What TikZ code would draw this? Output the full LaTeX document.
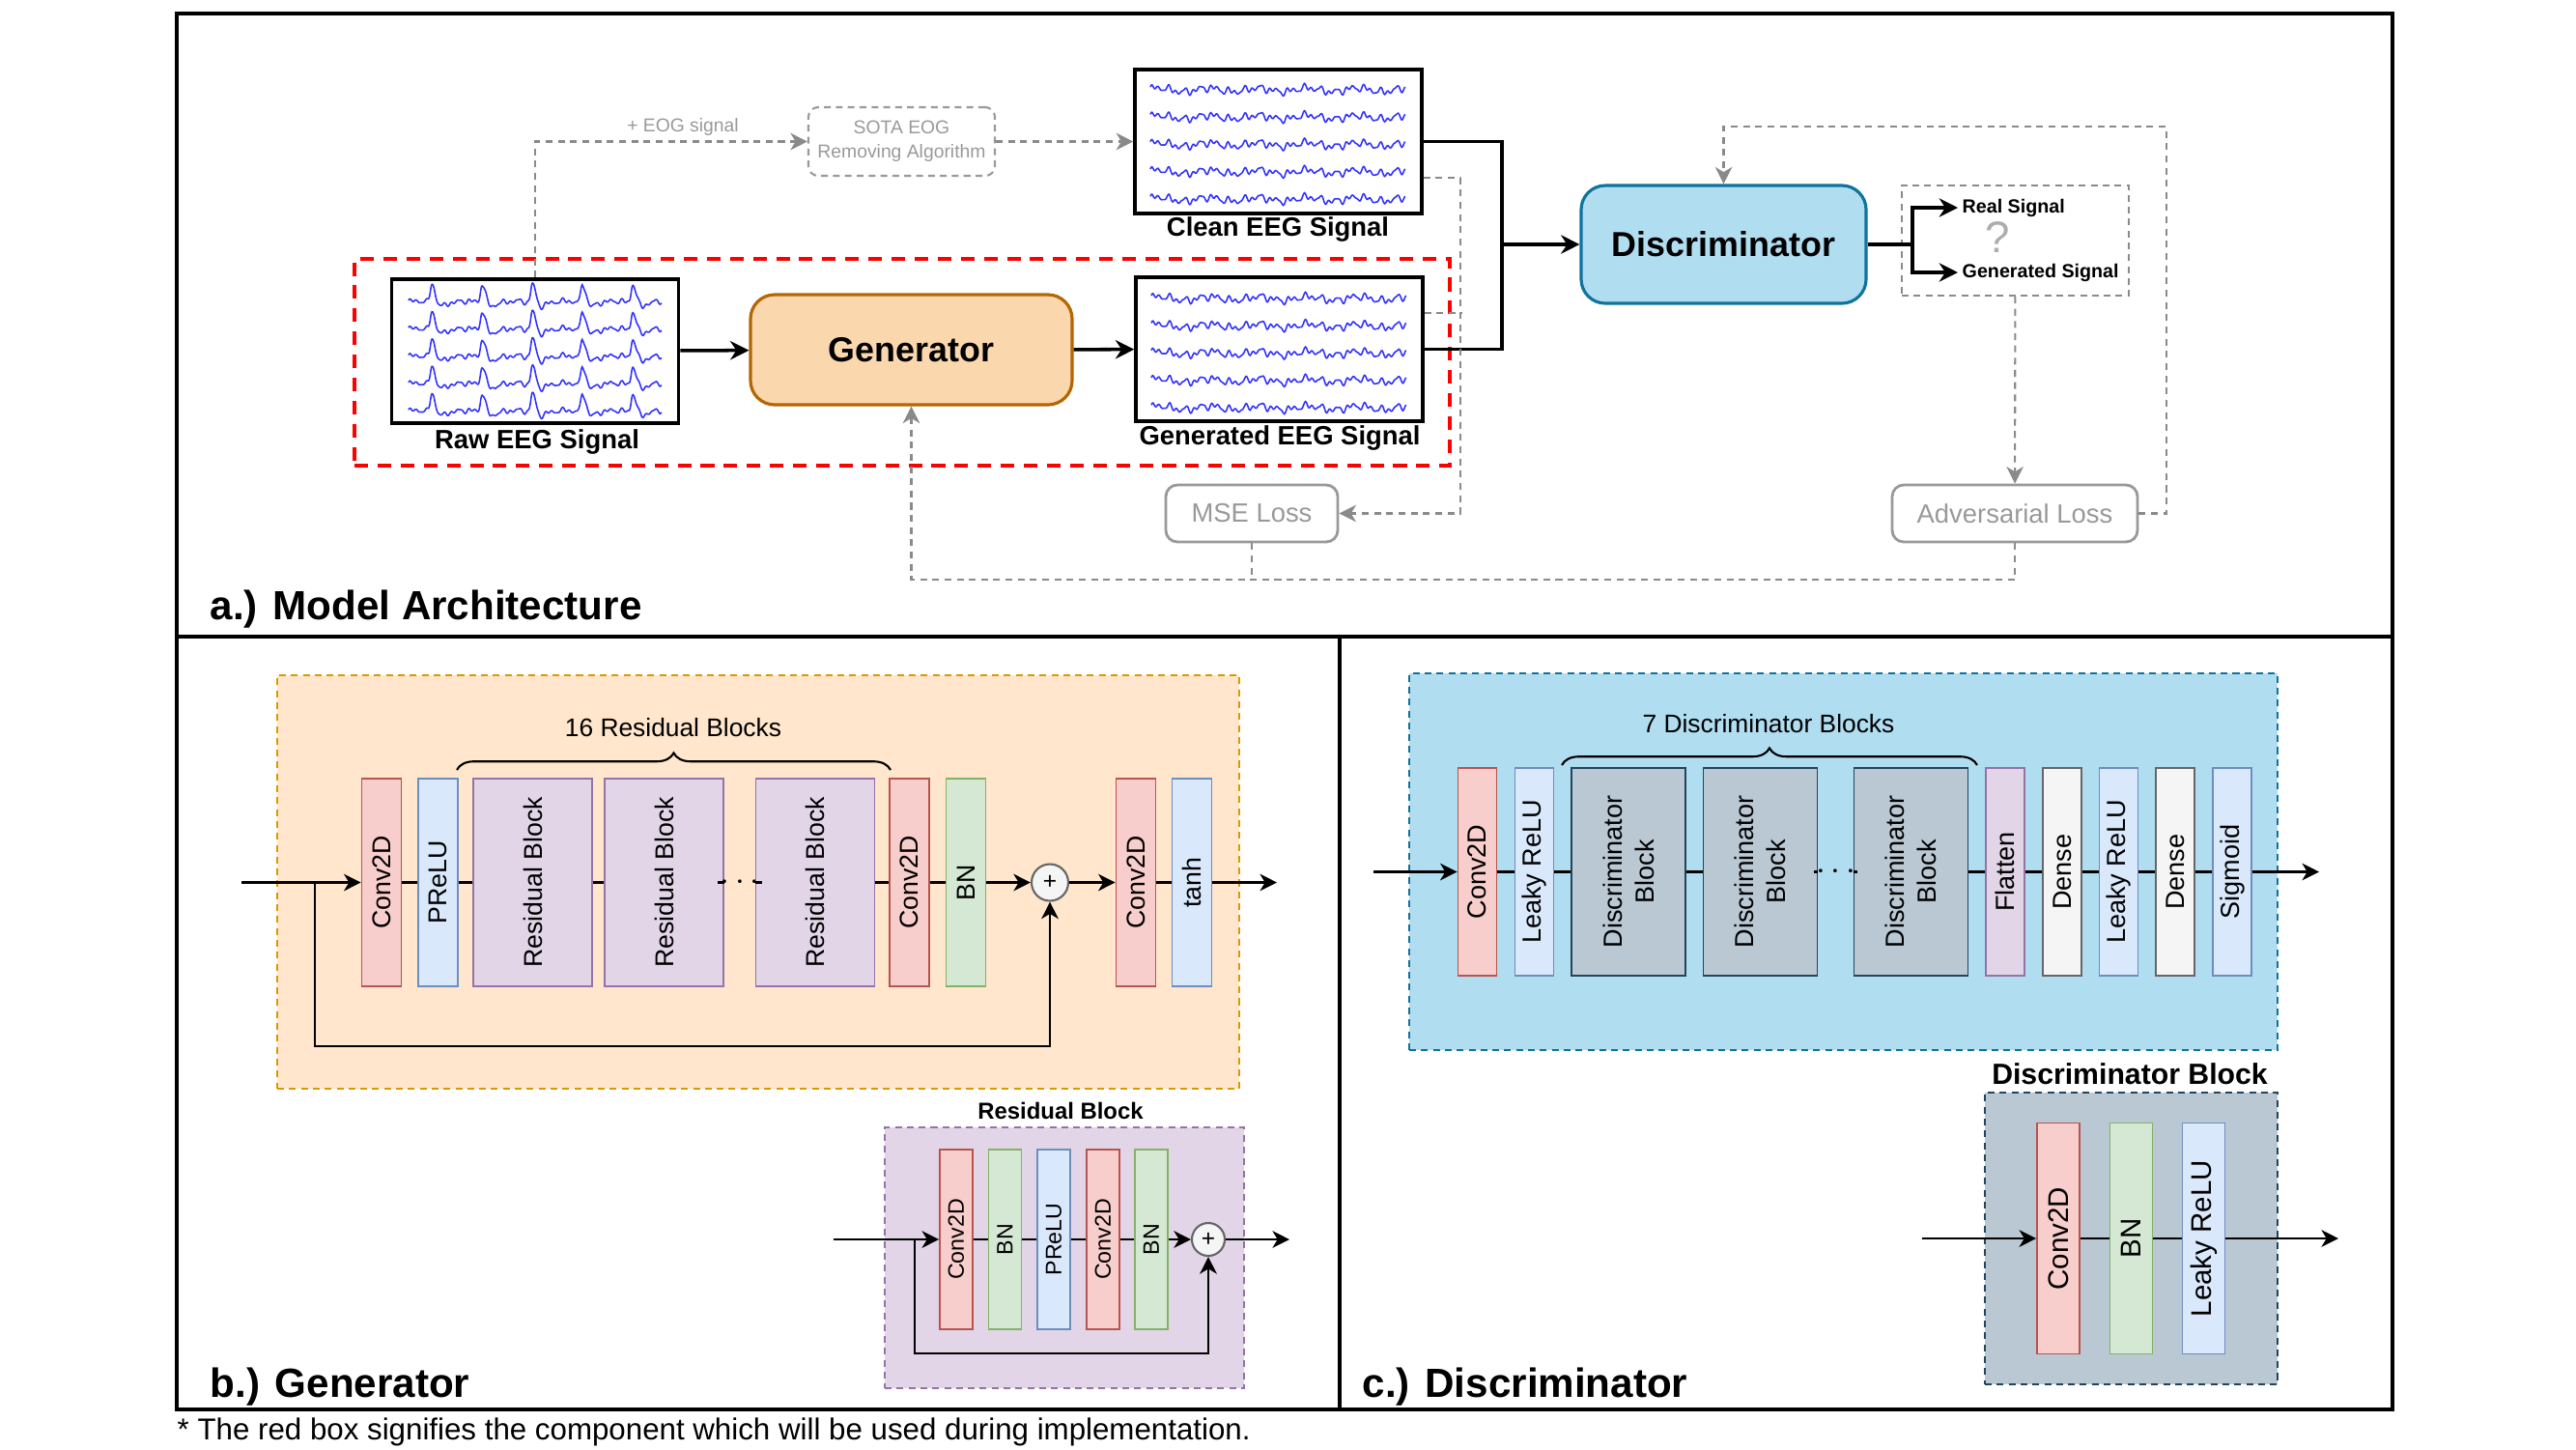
\documentclass[tikz,border=0pt]{standalone}
\usepackage{fontspec}
\setmainfont{Liberation Sans}
\usetikzlibrary{arrows.meta,decorations.pathreplacing}

\definecolor{convfill}{HTML}{F8CECC}\definecolor{convline}{HTML}{B85450}
\definecolor{actfill}{HTML}{DAE8FC}\definecolor{actline}{HTML}{6C8EBF}
\definecolor{bnfill}{HTML}{D5E8D4}\definecolor{bnline}{HTML}{82B366}
\definecolor{resfill}{HTML}{E1D5E7}\definecolor{resline}{HTML}{9673A6}
\definecolor{genfill}{HTML}{FAD7AC}\definecolor{genline}{HTML}{B46504}
\definecolor{orgfill}{HTML}{FFE6CC}\definecolor{orgline}{HTML}{D79B00}
\definecolor{discfill}{HTML}{B1DDF0}\definecolor{discline}{HTML}{10739E}
\definecolor{dblkfill}{HTML}{BAC8D3}\definecolor{dblkline}{HTML}{23445D}
\definecolor{densefill}{HTML}{F5F5F5}\definecolor{denseline}{HTML}{666666}
\definecolor{eegblue}{HTML}{3333FF}
\definecolor{lossgray}{HTML}{999999}
\definecolor{fbgray}{HTML}{8A8A8A}

\begin{document}
\begin{tikzpicture}[
	x=1cm, y=-1cm,
	declare function={
		eegn(\t)=0.022*sin(2300*\t)+0.017*sin(4100*\t+60)+0.013*sin(5900*\t+20)+0.02*sin(700*\t+30);
		spk(\u)=exp(-min(\u*\u,9));
		blink(\t)=spk(min(\t-0.1,0)/0.022+max(\t-0.1,0)/0.045)-0.15*spk((\t-0.2)/0.04);
	},
	eegbox/.style={draw, line width=1pt, minimum width=2.97cm, minimum height=1.49cm, inner sep=0},
	eegwave/.style={eegblue, line width=0.45pt},
	sigtext/.style={font=\fontsize{7.8}{9}\selectfont\bfseries},
	mainblock/.style={
		rectangle,
		rounded corners=2.5mm,
		line width=0.9pt,
		font=\fontsize{10.2}{12}\selectfont\bfseries
	},
	lossbox/.style={draw=lossgray, rounded corners=1.2mm, line width=0.8pt, text=lossgray,
		minimum height=0.59cm, font=\fontsize{7.8}{9}\selectfont},
	greytext/.style={text=lossgray, font=\fontsize{5.5}{7}\selectfont, align=center},
	flow/.style={line width=1pt, -{Stealth[length=5.5pt,width=5.5pt,inset=1.8pt]}},
	flowline/.style={line width=1pt},
	fb/.style={draw=fbgray, line width=0.6pt, dash pattern=on 2pt off 1.6pt},
	fbarrow/.style={fb, -{Stealth[length=5pt,width=5pt,inset=1.5pt]}},
	panel/.style={dash pattern=on 2pt off 1.5pt, line width=0.6pt, inner sep=0},
	nnlayer/.style={draw, line width=0.5pt, rotate=90, inner sep=0, align=center},
	conv2d/.style={nnlayer, fill=convfill, draw=convline},
	actfn/.style={nnlayer, fill=actfill, draw=actline},
	bnorm/.style={nnlayer, fill=bnfill, draw=bnline},
	resblock/.style={nnlayer, fill=resfill, draw=resline},
	discblock/.style={nnlayer, fill=dblkfill, draw=dblkline},
	flatten/.style={nnlayer, fill=resfill, draw=resline},
	denselyr/.style={nnlayer, fill=densefill, draw=denseline},
	gthin/.style={minimum width=2.15cm, minimum height=0.41cm, font=\fontsize{7.6}{9}\selectfont},
	gwide/.style={gthin, minimum height=1.23cm},
	rthin/.style={minimum width=1.86cm, minimum height=0.34cm, font=\fontsize{6.6}{8}\selectfont},
	dthin/.style={minimum width=2.15cm, minimum height=0.40cm, font=\fontsize{7.7}{9.4}\selectfont},
	dwide/.style={dthin, minimum height=1.18cm},
	bthin/.style={minimum width=2.39cm, minimum height=0.44cm, font=\fontsize{8.4}{10}\selectfont},
	addnode/.style={circle, draw=gray!80!black, fill=densefill, line width=0.6pt, inner sep=0,
		minimum size=#1, font=\fontsize{7}{8}\selectfont},
	link/.style={line width=0.65pt},
	linkarrow/.style={link, -{Stealth[length=5pt,width=5pt,inset=1.5pt]}},
	bracedraw/.style={decorate, decoration={brace, amplitude=5pt}, line width=0.6pt},
	bracetext/.style={font=\fontsize{7.5}{9}\selectfont},
	title/.style={anchor=west, inner sep=0, font=\fontsize{12}{14}\selectfont\bfseries},
	subtitle/.style={font=\fontsize{6.8}{8}\selectfont\bfseries},
]
	\useasboundingbox (0,0) rectangle (26.67,15);

	% frame
	\draw[line width=1pt] (1.83,0.14) rectangle (24.77,14.59);
	\draw[line width=1pt] (1.83,6.59) -- (24.77,6.59);
	\draw[line width=1pt] (13.87,6.59) -- (13.87,14.59);

	% a.) model architecture
	\node [eegbox] (rawbox) at (5.54,3.635) {};
	\node [eegbox] (cleanbox) at (13.235,1.465) {};
	\node [eegbox] (genbox) at (13.245,3.615) {};
	\foreach \r in {0,...,4} {
		\draw[eegwave] plot[domain=0:2.62, samples=400]
			({4.23+\x},{3.13+0.283*\r-0.7*eegn(\x)-0.2*blink(Mod(\x-0.14,0.52))});
		\draw[eegwave] plot[domain=0:2.64, samples=300] ({11.91+\x},{0.93+0.283*\r-eegn(\x)});
		\draw[eegwave] plot[domain=0:2.64, samples=300] ({11.92+\x},{3.09+0.283*\r-eegn(\x)});
	}
	\node [sigtext] (rawlbl) at (5.56,4.57) {Raw EEG Signal};
	\node [sigtext] (cleanlbl) at (13.23,2.37) {Clean EEG Signal};
	\node [sigtext] (genlbl) at (13.25,4.53) {Generated EEG Signal};

	\node [mainblock, fill=genfill, draw=genline, minimum width=3.33cm, minimum height=1.14cm] (generator) at (9.435,3.62) {Generator};
	\node [mainblock, fill=discfill, draw=discline, minimum width=2.95cm, minimum height=1.22cm] (disc) at (17.845,2.53) {Discriminator};

	\node [draw=lossgray, panel, rounded corners=1mm, minimum width=1.93cm, minimum height=0.71cm, greytext] (sota) at (9.335,1.465) {SOTA EOG\\Removing Algorithm};
	\node [greytext] (eoglbl) at (7.07,1.31) {+ EOG signal};
	\node [lossbox, minimum width=1.78cm] (mseloss) at (12.96,5.315) {MSE Loss};
	\node [lossbox, minimum width=2.54cm] (advloss) at (20.86,5.315) {Adversarial Loss};

	\node [draw=fbgray, panel, minimum width=2.35cm, minimum height=1.14cm] (outbox) at (20.865,2.49) {};
	\node [anchor=west, inner sep=0.4mm, font=\fontsize{5.6}{7}\selectfont\bfseries] (realsig) at (20.27,2.15) {Real Signal};
	\node [anchor=west, inner sep=0.4mm, font=\fontsize{5.6}{7}\selectfont\bfseries] (gensig) at (20.27,2.82) {Generated Signal};
	\node [text=lossgray!80, inner sep=0, font=\fontsize{13}{15}\selectfont] (qmark) at (20.68,2.46) {?};

	\node [draw=red, dash pattern=on 4pt off 2.8pt, line width=1.4pt, minimum width=11.34cm, minimum height=2.14cm, inner sep=0] (implbox) at (9.34,3.75) {};

	\coordinate (dsjoin) at (15.55,2.53);
	\coordinate (dsplit) at (19.80,2.53);
	\coordinate (msecorner) at (15.12,5.315);
	\coordinate (lossbus) at (9.435,6.00);
	\coordinate (advcorner) at (22.43,1.31);

	\draw [flow] (rawbox) -- (generator);
	\draw [flow] (generator) -- (genbox);
	\draw [flowline] (cleanbox.east) -| (dsjoin);
	\draw [flowline] (genbox.east) -| (dsjoin);
	\draw [flow] (dsjoin) -- (disc);
	\draw [flowline] (disc) -- (dsplit);
	\draw [flow] (dsplit) |- (realsig.west);
	\draw [flow] (dsplit) |- (gensig.west);

	\draw [fbarrow] (rawbox.north) |- (sota.west);
	\draw [fbarrow] (sota) -- (cleanbox);
	\draw [fbarrow] ([yshift=-3.75mm]cleanbox.east) -| (msecorner) -- (mseloss.east);
	\draw [fb] ([yshift=3.75mm]genbox.east) -- ++(0.39,0);
	\draw [fbarrow] (outbox) -- (advloss);
	\draw [fbarrow] (advloss.east) -| (advcorner) -| (disc.north);
	\draw [fbarrow] (advloss.south) |- (lossbus) -- (generator.south);
	\draw [fb] (mseloss.south) -- (mseloss.south |- lossbus);

	\node [title] (titlea) at (2.17,6.31) {a.) Model Architecture};

	% b.) generator
	\node [panel, draw=orgline, fill=orgfill, minimum width=9.96cm, minimum height=4.28cm] (genpanel) at (7.85,9.13) {};
	\node [conv2d, gthin] (gconvA) at (3.95,9.135) {Conv2D};
	\node [actfn, gthin] (gprelu) at (4.535,9.135) {PReLU};
	\node [resblock, gwide] (gres1) at (5.515,9.135) {Residual Block};
	\node [resblock, gwide] (gres2) at (6.875,9.135) {Residual Block};
	\node [inner sep=0.5pt] (gdots) at (7.66,9.135) {$\cdots$};
	\node [resblock, gwide] (gres3) at (8.44,9.135) {Residual Block};
	\node [conv2d, gthin] (gconvB) at (9.415,9.135) {Conv2D};
	\node [bnorm, gthin] (gbn) at (10.00,9.135) {BN};
	\node [addnode=0.38cm] (gplus) at (10.87,9.135) {+};
	\node [conv2d, gthin] (gconvC) at (11.76,9.135) {Conv2D};
	\node [actfn, gthin] (gtanh) at (12.34,9.135) {tanh};

	\draw [bracedraw] (4.73,7.97) -- (9.22,7.97);
	\node [bracetext] (gbrace) at (6.97,7.53) {16 Residual Blocks};

	\coordinate (gin) at (2.50,9.135);
	\coordinate (gsplit) at (3.26,9.135);
	\coordinate (gskip) at (10.87,10.83);
	\coordinate (gout) at (13.22,9.135);
	\draw [linkarrow] (gin) -- (gconvA);
	\draw [link] (gconvA) -- (gprelu) -- (gres1) -- (gres2) -- (gdots) -- (gres3) -- (gconvB) -- (gbn);
	\draw [linkarrow] (gbn) -- (gplus);
	\draw [linkarrow] (gplus) -- (gconvC);
	\draw [link] (gconvC) -- (gtanh);
	\draw [linkarrow] (gtanh) -- (gout);
	\draw [linkarrow] (gsplit) |- (gskip) -- (gplus);

	% residual block
	\node [panel, draw=resline, fill=resfill, minimum width=3.72cm, minimum height=2.70cm] (respanel) at (11.02,13.02) {};
	\node [subtitle] (restitle) at (10.98,11.50) {Residual Block};
	\node [conv2d, rthin] (rconvA) at (9.90,12.83) {Conv2D};
	\node [bnorm, rthin] (rbnA) at (10.405,12.83) {BN};
	\node [actfn, rthin] (rprelu) at (10.91,12.83) {PReLU};
	\node [conv2d, rthin] (rconvB) at (11.42,12.83) {Conv2D};
	\node [bnorm, rthin] (rbnB) at (11.92,12.83) {BN};
	\node [addnode=0.34cm] (rplus) at (12.51,12.83) {+};

	\coordinate (rin) at (8.63,12.83);
	\coordinate (rsplit) at (9.47,12.83);
	\coordinate (rskip) at (12.51,14.01);
	\coordinate (rout) at (13.35,12.83);
	\draw [linkarrow] (rin) -- (rconvA);
	\draw [link] (rconvA) -- (rbnA) -- (rprelu) -- (rconvB) -- (rbnB);
	\draw [linkarrow] (rbnB) -- (rplus);
	\draw [linkarrow] (rplus) -- (rout);
	\draw [linkarrow] (rsplit) |- (rskip) -- (rplus);

	\node [title] (titleb) at (2.17,14.36) {b.) Generator};

	% c.) discriminator
	\node [panel, draw=discline, fill=discfill, minimum width=8.99cm, minimum height=3.90cm] (discpanel) at (19.085,8.92) {};
	\node [conv2d, dthin] (dconv) at (15.295,9.025) {Conv2D};
	\node [actfn, dthin] (dlreluA) at (15.885,9.025) {Leaky ReLU};
	\node [discblock, dwide] (dblkA) at (16.86,9.025) {Discriminator\\Block};
	\node [discblock, dwide] (dblkB) at (18.225,9.025) {Discriminator\\Block};
	\node [inner sep=0.5pt] (ddots) at (19.005,9.025) {$\cdots$};
	\node [discblock, dwide] (dblkC) at (19.785,9.025) {Discriminator\\Block};
	\node [flatten, dthin] (dflat) at (20.76,9.025) {Flatten};
	\node [denselyr, dthin] (ddenseA) at (21.35,9.025) {Dense};
	\node [actfn, dthin] (dlreluB) at (21.935,9.025) {Leaky ReLU};
	\node [denselyr, dthin] (ddenseB) at (22.52,9.025) {Dense};
	\node [actfn, dthin] (dsig) at (23.11,9.025) {Sigmoid};

	\draw [bracedraw] (16.17,7.92) -- (20.47,7.92);
	\node [bracetext] (dbrace) at (18.31,7.49) {7 Discriminator Blocks};

	\coordinate (din) at (14.22,9.025);
	\coordinate (dout) at (24.01,9.025);
	\draw [linkarrow] (din) -- (dconv);
	\draw [link] (dconv) -- (dlreluA) -- (dblkA) -- (dblkB) -- (ddots) -- (dblkC) -- (dflat) -- (ddenseA) -- (dlreluB) -- (ddenseB) -- (dsig);
	\draw [linkarrow] (dsig) -- (dout);

	% discriminator block
	\node [panel, draw=dblkline, fill=dblkfill, minimum width=3.03cm, minimum height=3.02cm] (dblkpanel) at (22.065,12.82) {};
	\node [subtitle, font=\fontsize{8.6}{10}\selectfont\bfseries] (dblktitle) at (22.05,11.12) {Discriminator Block};
	\node [conv2d, bthin] (bconv) at (21.31,12.82) {Conv2D};
	\node [bnorm, bthin] (bbn) at (22.065,12.82) {BN};
	\node [actfn, bthin] (blrelu) at (22.815,12.82) {Leaky ReLU};

	\coordinate (bin) at (19.90,12.82);
	\coordinate (bout) at (24.21,12.82);
	\draw [linkarrow] (bin) -- (bconv);
	\draw [link] (bconv) -- (bbn) -- (blrelu);
	\draw [linkarrow] (blrelu) -- (bout);

	\node [title] (titlec) at (14.10,14.36) {c.) Discriminator};

	\node [anchor=west, inner sep=0, font=\fontsize{8.9}{10}\selectfont] (footnote) at (1.83,14.82) {* The red box signifies the component which will be used during implementation.};
\end{tikzpicture}
\end{document}
